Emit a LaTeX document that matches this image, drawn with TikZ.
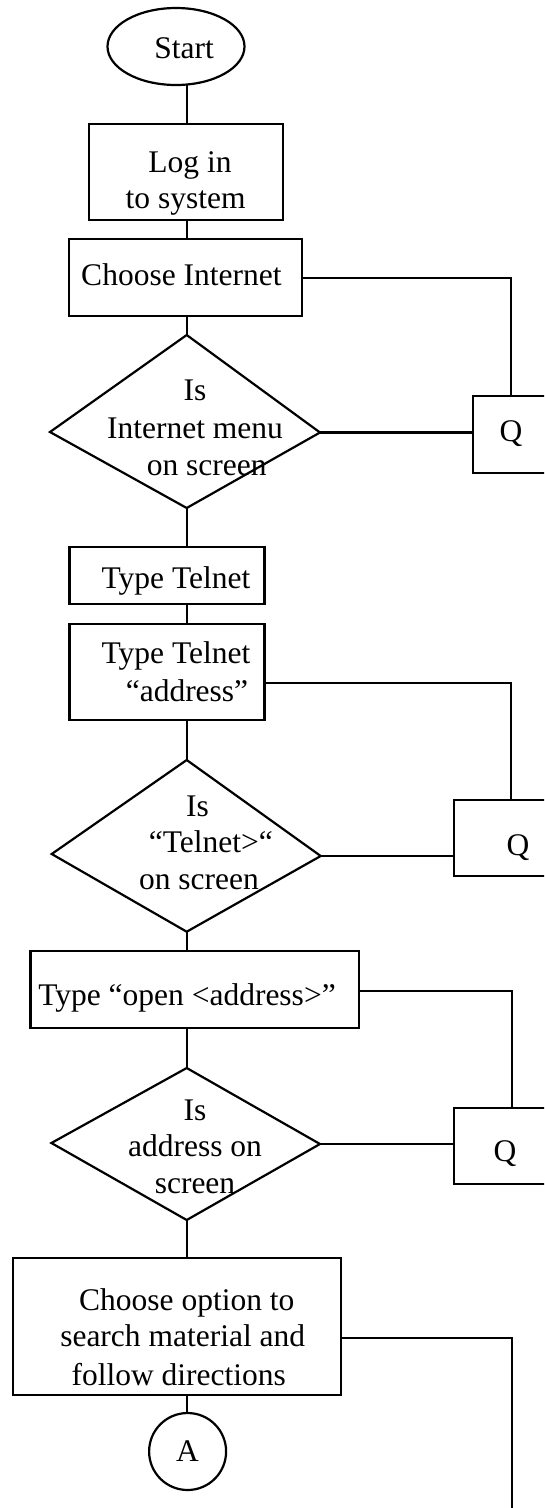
\documentclass[tikz,border=0pt]{standalone}
\usepackage{fontspec}
\setmainfont{Liberation Serif}
\usetikzlibrary{shapes.geometric}

\tikzset{
  ln/.style={line width=2.2pt, line join=miter},
  boxnode/.style={draw, ln, rectangle, inner sep=0pt, outer sep=0pt},
  txt/.style={anchor=base, inner sep=0pt, font=\fontsize{31.5}{37.5}\selectfont},
}

\begin{document}
\begin{tikzpicture}[x=1pt, y=-1pt]
  \useasboundingbox (0,0) rectangle (544,1508);
  \fill[white] (0,0) rectangle (544,1508);
  \clip (0,0) rectangle (544,1508);

  % main column of the chart
  \coordinate (trunk) at (186.7,0);

  \node[draw, ln, ellipse, minimum width=137pt, minimum height=77pt, inner sep=0pt, outer sep=0pt] (start) at (176,46.5) {};
  \node[boxnode, minimum width=194pt, minimum height=96pt] (login) at (186,172) {};
  \node[boxnode, minimum width=233pt, minimum height=77pt] (choose) at (185.5,277.5) {};

  % first decision
  \coordinate (d1n) at (186.7,335);
  \coordinate (d1e) at (320,432.5);
  \coordinate (d1s) at (186.7,508);
  \coordinate (d1w) at (50,432);
  \draw[ln] (d1n) -- (d1e) -- (d1s) -- (d1w) -- cycle;

  \node[boxnode, minimum width=195pt, minimum height=57.3pt] (telnet) at (167,575.3) {};
  \node[boxnode, minimum width=195pt, minimum height=96pt] (telnetaddr) at (167,672) {};

  % second decision
  \coordinate (d2n) at (186.7,760);
  \coordinate (d2e) at (320.7,856);
  \coordinate (d2s) at (186.7,931.7);
  \coordinate (d2w) at (51.7,854);
  \draw[ln] (d2n) -- (d2e) -- (d2s) -- (d2w) -- cycle;

  \node[boxnode, minimum width=328.5pt, minimum height=77.3pt] (open) at (194.8,989.3) {};

  % third decision
  \coordinate (d3n) at (186.7,1068);
  \coordinate (d3e) at (320,1144);
  \coordinate (d3s) at (186.7,1220);
  \coordinate (d3w) at (51.4,1143);
  \draw[ln] (d3n) -- (d3e) -- (d3s) -- (d3w) -- cycle;

  \node[boxnode, minimum width=328pt, minimum height=137pt] (option) at (176.8,1326.5) {};
  \node[draw, ln, circle, minimum size=77pt, inner sep=0pt, outer sep=0pt] (conA) at (187.6,1451.5) {};

  % quit boxes on the right
  \node[boxnode, minimum width=100pt, minimum height=76.7pt] (q1) at (522.7,434.3) {};
  \node[boxnode, minimum width=100pt, minimum height=76pt] (q2) at (504,838) {};
  \node[boxnode, minimum width=100pt, minimum height=76.3pt] (q3) at (504,1145.8) {};

  % texts
  \node[txt] (t-start) at (184,58) {Start};
  \node[txt] (t-login1) at (190,172) {Log in};
  \node[txt] (t-login2) at (185.6,208.3) {to system};
  \node[txt] (t-choose) at (181.4,285) {Choose Internet};
  \node[txt] (t-d1a) at (195,400) {Is};
  \node[txt] (t-d1b) at (195,438.3) {Internet menu};
  \node[txt] (t-d1c) at (206.7,475) {on screen};
  \node[txt] (t-telnet) at (176,588.3) {Type Telnet};
  \node[txt] (t-taddr1) at (176,663.3) {Type Telnet};
  \node[txt] (t-taddr2) at (187,701.7) {“address”};
  \node[txt] (t-d2a) at (197.5,816) {Is};
  \node[txt] (t-d2b) at (210.8,852.7) {“Telnet>“};
  \node[txt] (t-d2c) at (199,889.3) {on screen};
  \node[txt] (t-open) at (187,1005) {Type “open <address>”};
  \node[txt] (t-d3a) at (195,1120) {Is};
  \node[txt] (t-d3b) at (195,1156.7) {address on};
  \node[txt] (t-d3c) at (195,1193) {screen};
  \node[txt] (t-opt1) at (186.8,1310) {Choose option to};
  \node[txt] (t-opt2) at (182.7,1346.7) {search material and};
  \node[txt] (t-opt3) at (178.7,1385) {follow directions};
  \node[txt] (t-A) at (187.6,1461.7) {A};
  \node[txt] (t-q1) at (511,441.7) {Q};
  \node[txt] (t-q2) at (518,855) {Q};
  \node[txt] (t-q3) at (505,1161.7) {Q};

  % vertical flow
  \draw[ln] (start.south -| trunk) -- (login.north -| trunk);
  \draw[ln] (login.south -| trunk) -- (choose.north -| trunk);
  \draw[ln] (choose.south -| trunk) -- (d1n);
  \draw[ln] (d1s) -- (telnet.north -| trunk);
  \draw[ln] (telnet.south -| trunk) -- (telnetaddr.north -| trunk);
  \draw[ln] (telnetaddr.south -| trunk) -- (d2n);
  \draw[ln] (d2s) -- (open.north -| trunk);
  \draw[ln] (open.south -| trunk) -- (d3n);
  \draw[ln] (d3s) -- (option.north -| trunk);
  \draw[ln] (option.south -| trunk) -- (conA.north -| trunk);

  % branches to the right
  \coordinate (c1) at (511,278);
  \coordinate (c2) at (510.7,682.7);
  \coordinate (c3) at (512,991);
  \coordinate (c4) at (511.8,1337.7);
  \coordinate (bottomend) at (511.8,1512);

  \draw[ln] (choose.east |- c1) -- (c1) -- (c1 |- q1.north);
  \draw[ln] (d1e) -- (q1.west |- d1e);
  \draw[ln] (telnetaddr.east |- c2) -- (c2) -- (c2 |- q2.north);
  \draw[ln] (d2e) -- (q2.west |- d2e);
  \draw[ln] (open.east |- c3) -- (c3) -- (c3 |- q3.north);
  \draw[ln] (d3e) -- (q3.west |- d3e);
  \draw[ln] (option.east |- c4) -- (c4) -- (bottomend);
\end{tikzpicture}
\end{document}
